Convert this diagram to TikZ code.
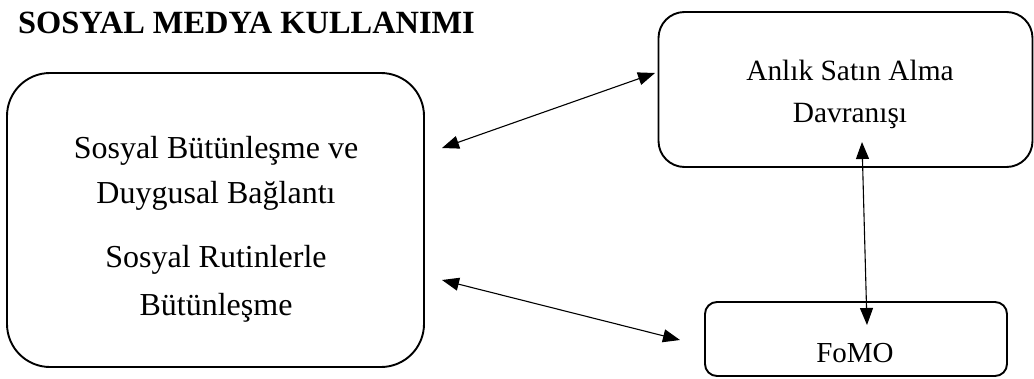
\documentclass[tikz,border=0pt]{standalone}
\usepackage{fontspec}
\setmainfont{Liberation Serif}
\usetikzlibrary{arrows.meta}
\begin{document}
\begin{tikzpicture}[x=1pt,y=-1pt,
  box/.style={draw, line width=1.9pt, rounded corners=#1, inner sep=0pt},
  lbl/.style={anchor=base, inner sep=0pt, font=\fontsize{#1}{#1}\selectfont},
  arr/.style={{Triangle[length=17pt,width=13pt]}-{Triangle[length=17pt,width=13pt]}, line width=1.1pt}
]
\useasboundingbox (0,0) rectangle (1034,378);
% title
\node[anchor=base west, inner sep=0pt, font=\fontsize{32.4}{32.4}\selectfont\bfseries] (title) at (18,33) {SOSYAL MEDYA KULLANIMI};
% boxes
\node[box=43pt, minimum width=417pt, minimum height=294pt] (L) at (215.5,220) {};
\node[box=26pt, minimum width=374pt, minimum height=155pt] (A) at (845.5,89.5) {};
\node[box=12pt, minimum width=302pt, minimum height=74pt] (F) at (856,339) {};
% texts
\node[lbl=32] (l1) at (216,158) {Sosyal Bütünleşme ve};
\node[lbl=32] (l2) at (216,203) {Duygusal Bağlantı};
\node[lbl=32] (l3) at (216,267) {Sosyal Rutinlerle};
\node[lbl=32] (l4) at (216,315) {Bütünleşme};
\node[lbl=29.4] (a1) at (850,80) {Anlık Satın Alma};
\node[lbl=29.4] (a2) at (850,122) {Davranışı};
\node[lbl=29] (f1) at (855,362) {FoMO};
% connector end points
\coordinate (e1l) at (442,148);
\coordinate (e1r) at (655,73);
\coordinate (e2l) at (442,280);
\coordinate (e2r) at (680,340);
\coordinate (evt) at (862,142);
\coordinate (evb) at (867,325);
\draw[arr] (e1l) -- (e1r);
\draw[arr] (e2l) -- (e2r);
\draw[arr] (evt) -- (evb);
\end{tikzpicture}
\end{document}
